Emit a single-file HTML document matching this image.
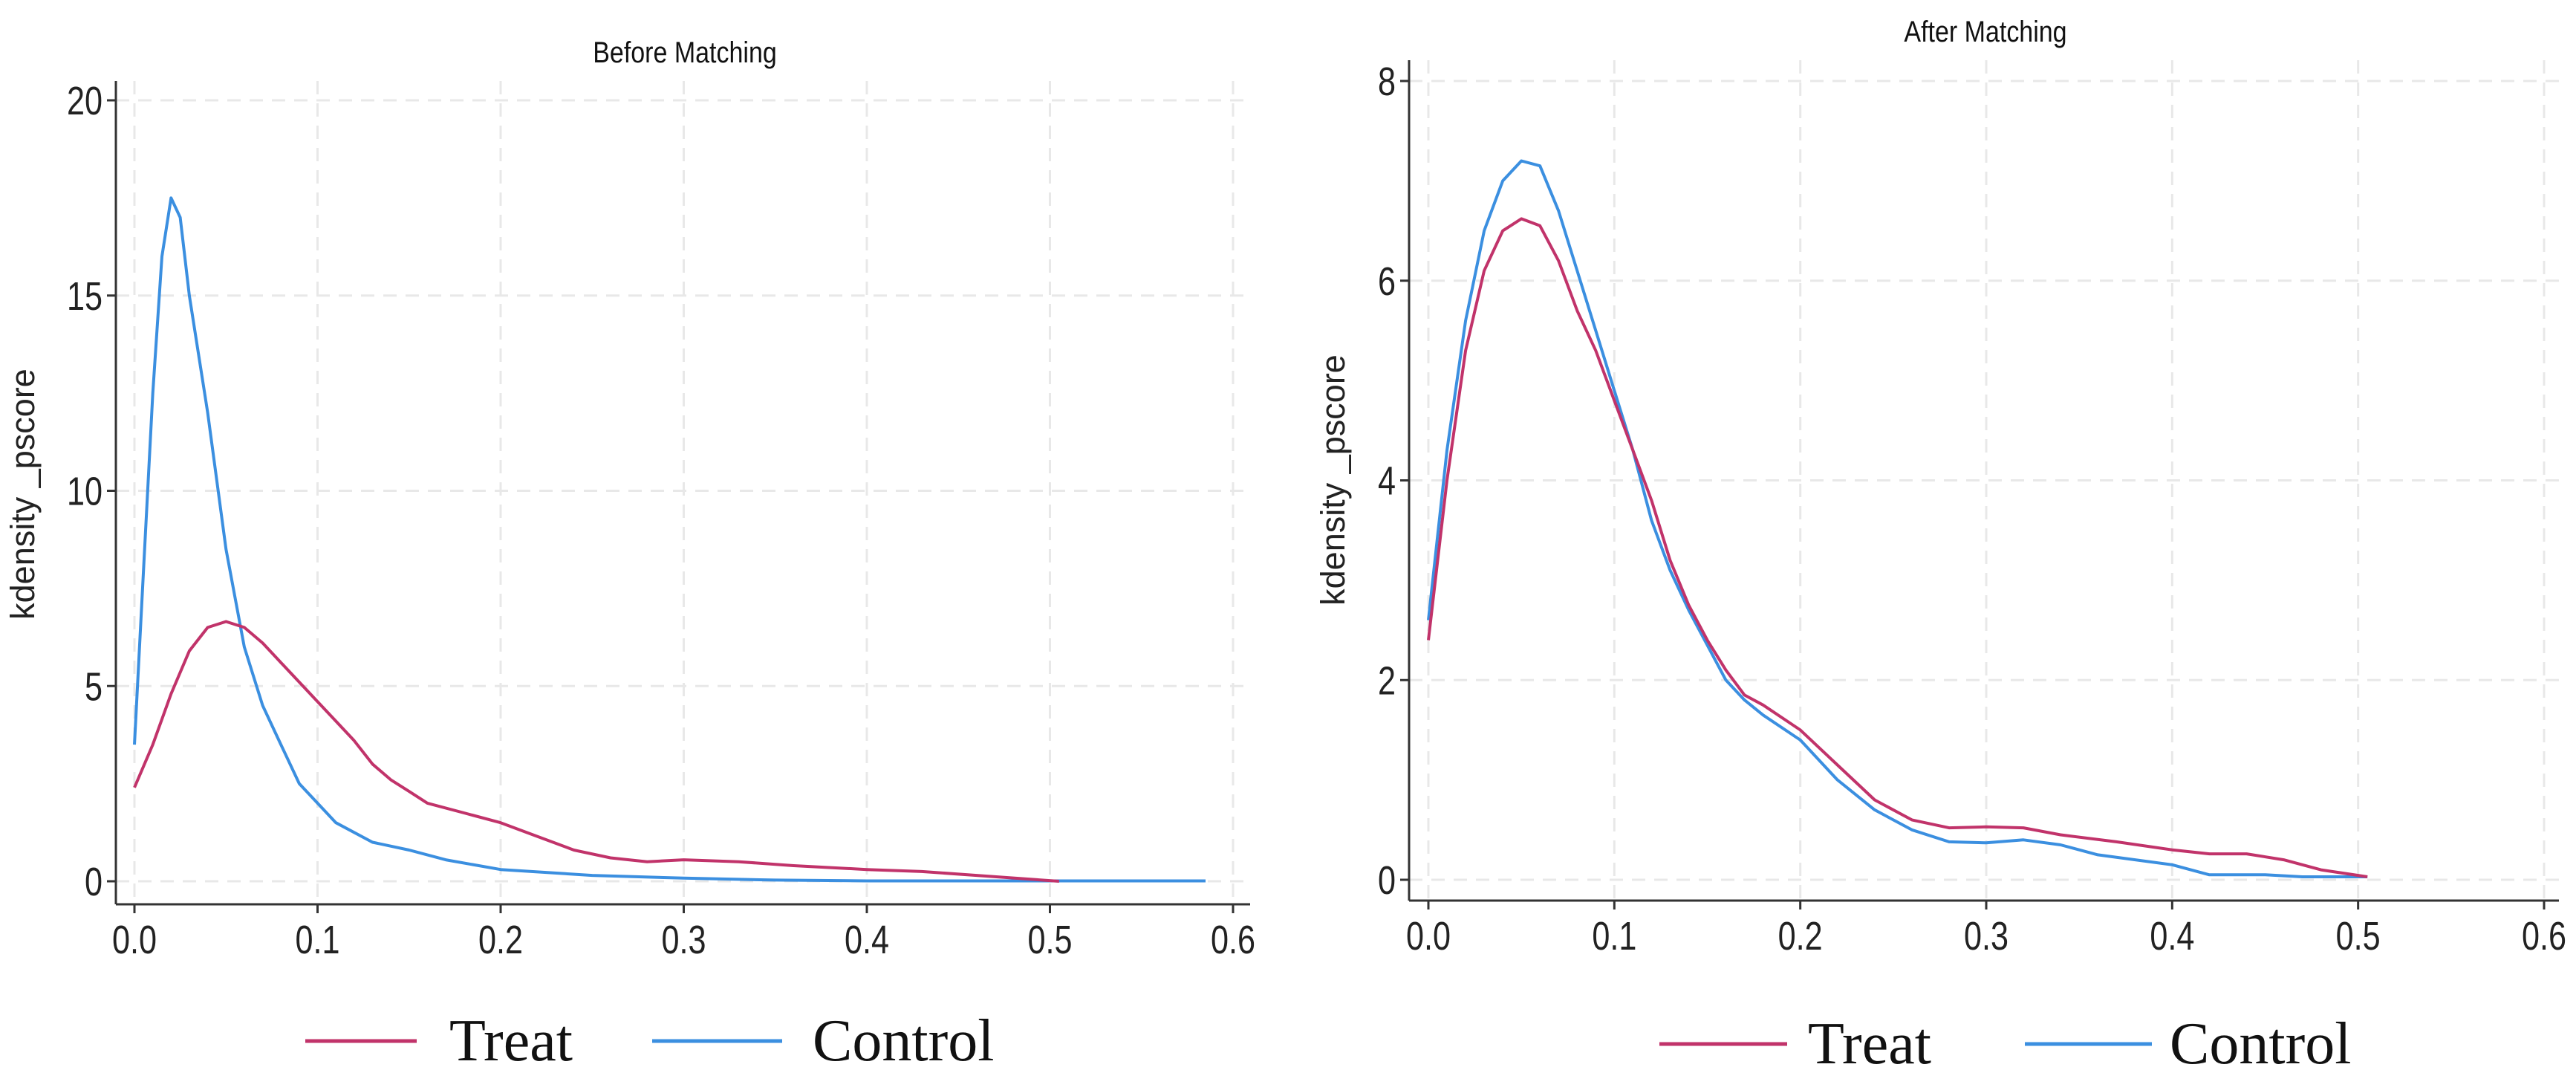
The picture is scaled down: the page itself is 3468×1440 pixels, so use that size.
<!DOCTYPE html>
<html><head><meta charset="utf-8">
<style>
html,body{margin:0;padding:0;background:#fff;}
svg{display:block;}
.tick{font-family:"Liberation Sans Narrow","Liberation Sans",sans-serif;font-size:54px;fill:#222;}
.ttl{font-family:"Liberation Sans Narrow","Liberation Sans",sans-serif;font-size:40px;fill:#111;}
.yl{font-family:"Liberation Sans",sans-serif;font-size:45px;fill:#222;}
.leg{font-family:"Liberation Serif",serif;font-size:80px;fill:#111;}
</style></head>
<body>
<svg id="chart" width="3468" height="1440" viewBox="0 0 3468 1440" xmlns="http://www.w3.org/2000/svg"></svg>
<script>
const xTicks=[0,0.1,0.2,0.3,0.4,0.5,0.6];
const xTickLabels=["0.0","0.1","0.2","0.3","0.4","0.5","0.6"];
const yTicksBefore=[0,5,10,15,20];
const yTicksAfter=[0,2,4,6,8];
const seriesNames=["Treat","Control"];
const beforeCtrlX=[0,0.005,0.01,0.015,0.02,0.025,0.03,0.04,0.05,0.06,0.07,0.08,0.09,0.1,0.11,0.13,0.15,0.17,0.2,0.25,0.3,0.35,0.4,0.5,0.585];
const beforeCtrlY=[3.5,8,12.5,16,17.5,17,15,12,8.5,6,4.5,3.5,2.5,2,1.5,1,0.8,0.55,0.3,0.15,0.08,0.03,0.01,0.01,0.01];
const beforeTreatX=[0,0.01,0.02,0.03,0.04,0.05,0.06,0.07,0.08,0.09,0.1,0.11,0.12,0.13,0.14,0.15,0.16,0.18,0.2,0.22,0.24,0.26,0.28,0.3,0.33,0.36,0.4,0.43,0.46,0.49,0.505];
const beforeTreatY=[2.4,3.5,4.8,5.9,6.5,6.65,6.5,6.1,5.6,5.1,4.6,4.1,3.6,3.0,2.6,2.3,2.0,1.75,1.5,1.15,0.8,0.6,0.5,0.55,0.5,0.4,0.3,0.25,0.15,0.05,0];
const afterCtrlX=[0,0.01,0.02,0.03,0.04,0.05,0.06,0.07,0.08,0.09,0.1,0.11,0.12,0.13,0.14,0.15,0.16,0.17,0.18,0.2,0.22,0.24,0.26,0.28,0.3,0.32,0.34,0.36,0.4,0.42,0.45,0.47,0.505];
const afterCtrlY=[2.6,4.3,5.6,6.5,7.0,7.2,7.15,6.7,6.1,5.5,4.9,4.3,3.6,3.1,2.7,2.35,2.0,1.8,1.65,1.4,1.0,0.7,0.5,0.38,0.37,0.4,0.35,0.25,0.15,0.05,0.05,0.03,0.03];
const afterTreatX=[0,0.01,0.02,0.03,0.04,0.05,0.06,0.07,0.08,0.09,0.1,0.11,0.12,0.13,0.14,0.15,0.16,0.17,0.18,0.2,0.22,0.24,0.26,0.28,0.3,0.32,0.34,0.37,0.4,0.42,0.44,0.46,0.48,0.505];
const afterTreatY=[2.4,4.0,5.3,6.1,6.5,6.62,6.55,6.2,5.7,5.3,4.8,4.3,3.8,3.2,2.75,2.4,2.1,1.85,1.75,1.5,1.15,0.8,0.6,0.52,0.53,0.52,0.45,0.38,0.3,0.26,0.26,0.2,0.1,0.03];

const NS="http://www.w3.org/2000/svg";
const svg=document.getElementById('chart');
const TREAT="#c1336a", CTRL="#3b8fe0";
function mk(tag,attrs,parent){const e=document.createElementNS(NS,tag);for(const k in attrs)e.setAttribute(k,attrs[k]);(parent||svg).appendChild(e);return e;}

function panel(p){
  const g=mk('g',{});
  
  
  const xs=v=>p.x0+(p.x6-p.x0)*v/0.6;
  const ys=v=>p.y0+(p.yTop-p.y0)*v/p.yMax;
  p.yTicks.forEach(t=>{const l=mk('line',{x1:p.axL,x2:p.axR,y1:ys(t),y2:ys(t),stroke:'#e8e8e8','stroke-width':3,'stroke-dasharray':'18 12'},g);
    });
  xTicks.forEach(t=>{const l=mk('line',{x1:xs(t),x2:xs(t),y1:p.axTop,y2:p.axB,stroke:'#e8e8e8','stroke-width':3,'stroke-dasharray':'18 12'},g);
    });
  const ya=mk('line',{x1:p.axL,x2:p.axL,y1:p.axTop,y2:p.axB,stroke:'#333','stroke-width':3},g);
  
  const xa=mk('line',{x1:p.axL,x2:p.axR,y1:p.axB,y2:p.axB,stroke:'#333','stroke-width':3},g);
  
  p.yTicks.forEach(t=>{
    mk('line',{x1:p.axL-12,x2:p.axL,y1:ys(t),y2:ys(t),stroke:'#333','stroke-width':3},g);
    const tx=mk('text',{x:0,y:0,'text-anchor':'end',class:'tick',transform:`translate(${p.axL-18},${ys(t)+19}) scale(0.8,1)`},g);tx.textContent=t;
    
  });
  xTicks.forEach((t,i)=>{
    mk('line',{x1:xs(t),x2:xs(t),y1:p.axB,y2:p.axB+12,stroke:'#333','stroke-width':3},g);
    const tx=mk('text',{x:0,y:0,'text-anchor':'middle',class:'tick',transform:`translate(${xs(t)},${p.axB+66}) scale(0.8,1)`},g);tx.textContent=xTickLabels[i];
    
  });
  const ti=mk('text',{x:0,y:0,'text-anchor':'middle',class:'ttl',transform:`translate(${p.titleX},${p.titleY}) scale(0.85,1)`},g);ti.textContent=p.title;
  
  const yl=mk('text',{x:0,y:0,'text-anchor':'middle',class:'yl',transform:`translate(${p.ylX},${p.ylY}) rotate(-90)`},g);yl.textContent='kdensity _pscore';
  
  function line(X,Y,c,n){
    const d=X.map((v,i)=>(i?'L':'M')+xs(v).toFixed(1)+' '+ys(Y[i]).toFixed(1)).join(' ');
    const pa=mk('path',{d:d,fill:'none',stroke:c,'stroke-width':4,'stroke-linejoin':'round'},g);
    
  }
  line(p.cx,p.cy,CTRL,'control-line');
  line(p.tx,p.ty,TREAT,'treat-line');
  const l1=mk('line',{x1:p.lg[0],x2:p.lg[1],y1:p.lgY,y2:p.lgY,stroke:TREAT,'stroke-width':5},g);
  
  const t1=mk('text',{x:p.lg[2],y:p.lgY+26,class:'leg'},g);t1.textContent=seriesNames[0];
  
  const l2=mk('line',{x1:p.lg[3],x2:p.lg[4],y1:p.lgY,y2:p.lgY,stroke:CTRL,'stroke-width':5},g);
  
  const t2=mk('text',{x:p.lg[5],y:p.lgY+26,class:'leg'},g);t2.textContent=seriesNames[1];
  
}
panel({name:'before-matching-panel',title:'Before Matching',x0:181,x6:1660,y0:1186,yTop:135,yMax:20,yTicks:yTicksBefore,
  axL:156,axR:1683,axTop:109,axB:1217,titleX:922,titleY:84,ylX:46,ylY:665,
  cx:beforeCtrlX,cy:beforeCtrlY,tx:beforeTreatX,ty:beforeTreatY,lgY:1401,lg:[411,561,605,878,1053,1094]});
panel({name:'after-matching-panel',title:'After Matching',x0:1923,x6:3425,y0:1184,yTop:109,yMax:8,yTicks:yTicksAfter,
  axL:1897,axR:3445,axTop:81,axB:1212,titleX:2673,titleY:56,ylX:1810,ylY:646,
  cx:afterCtrlX,cy:afterCtrlY,tx:afterTreatX,ty:afterTreatY,lgY:1405,lg:[2234,2406,2434,2726,2897,2921]});
</script>
</body></html>
